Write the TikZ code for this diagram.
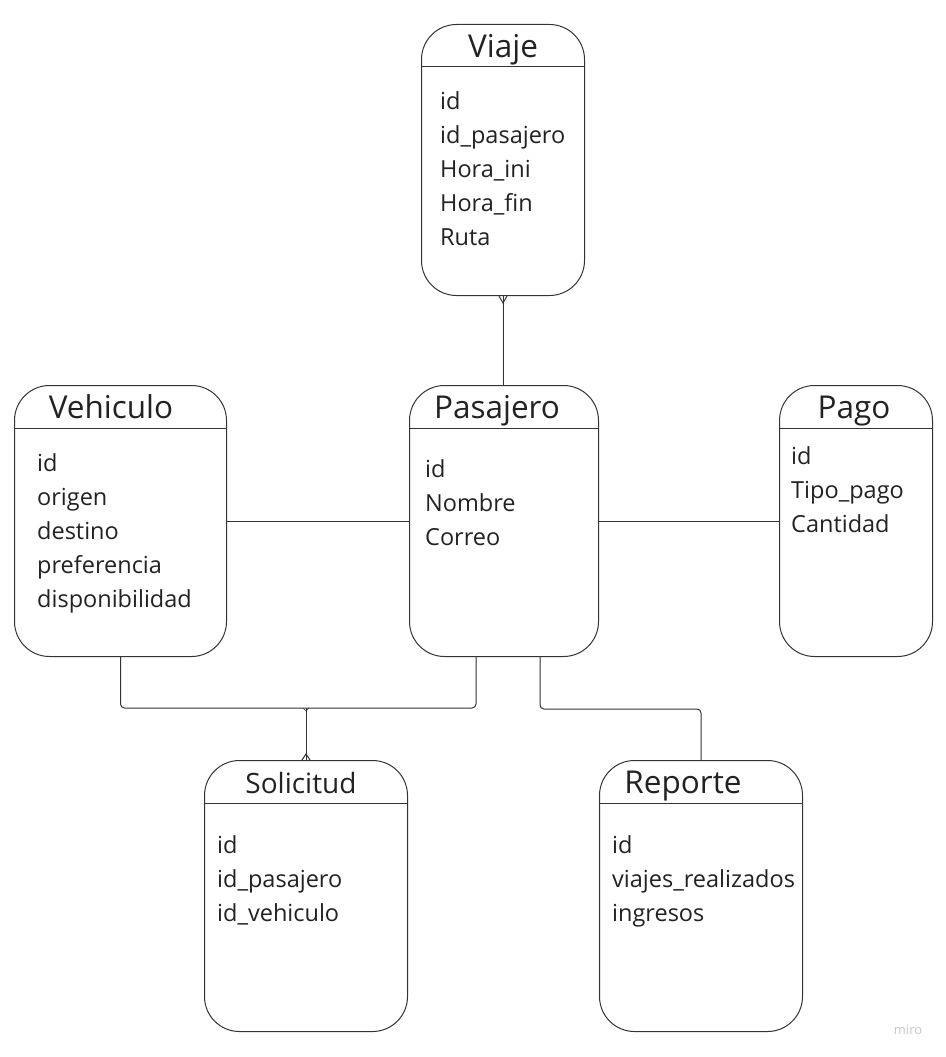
\documentclass[tikz,border=0pt]{standalone}
\usepackage{fontspec}
\setmainfont{Open Sans}
\usepackage{tikz}
\usepackage{xcolor}

\definecolor{edge}{HTML}{333333}
\definecolor{ink}{HTML}{222222}

\tikzset{
  entity/.style={draw=edge, line width=1pt, rounded corners=35pt, minimum height=271pt, inner sep=0pt, anchor=north west},
  title/.style={anchor=base, inner sep=0pt, text=ink, font=\fontsize{31.5}{34}\selectfont},
  attr/.style={anchor=base west, inner sep=0pt, text=ink, font=\fontsize{23.5}{34}\selectfont},
  conn/.style={draw=edge, line width=1pt},
}

\begin{document}
\begin{tikzpicture}[x=1pt,y=-1pt]
\useasboundingbox (0,0) rectangle (945,1057);

% entities
\node[entity, minimum width=163pt] (viaje) at (421,24) {};
\node[entity, minimum width=212pt] (vehiculo) at (14,385) {};
\node[entity, minimum width=189pt] (pasajero) at (409,385) {};
\node[entity, minimum width=153pt] (pago) at (779,385) {};
\node[entity, minimum width=203pt] (solicitud) at (204,760) {};
\node[entity, minimum width=203pt] (reporte) at (599,760) {};

% header lines
\foreach \e in {viaje,vehiculo,pasajero,pago,solicitud,reporte}
  \draw[conn] ([yshift=-43pt]\e.north west) -- ([yshift=-43pt]\e.north east);

\node[title] (viaje-t) at (503,57) {Viaje};
\node[title] (vehiculo-t) at (111,418) {Vehiculo};
\node[title] (pasajero-t) at (497,418) {Pasajero};
\node[title] (pago-t) at (854,418) {Pago};
\node[title, font=\fontsize{28}{34}\selectfont] (solicitud-t) at (301,793) {Solicitud};
\node[title] (reporte-t) at (683,793) {Reporte};

% attributes
\foreach \t [count=\i from 0] in {id, id\_pasajero, Hora\_ini, Hora\_fin, Ruta}
  \node[attr] (viaje-\i) at (440,109+34*\i) {\t};
\foreach \t [count=\i from 0] in {id, origen, destino, preferencia, disponibilidad}
  \node[attr] (vehiculo-\i) at (37,471+34*\i) {\t};
\foreach \t [count=\i from 0] in {id, Nombre, Correo}
  \node[attr] (pasajero-\i) at (425,477+34*\i) {\t};
\foreach \t [count=\i from 0] in {id, Tipo\_pago, Cantidad}
  \node[attr] (pago-\i) at (791,464+34*\i) {\t};
\foreach \t [count=\i from 0] in {id, id\_pasajero, id\_vehiculo}
  \node[attr] (solicitud-\i) at (217,853+34*\i) {\t};
\foreach \t [count=\i from 0] in {id, viajes\_realizados, ingresos}
  \node[attr] (reporte-\i) at (612,853+34*\i) {\t};

% relations
\draw[conn] (viaje.south) -- (viaje.south |- pasajero.north);
\draw[conn] ([xshift=-4pt]viaje.south) -- ([yshift=-7pt]viaje.south) -- ([xshift=4pt]viaje.south);
\draw[conn] (vehiculo.east) -- (pasajero.west);
\draw[conn] (pasajero.east) -- (pago.west);

\coordinate (jct) at (solicitud.north |- 0,708);
\draw[conn, rounded corners=4pt] (vehiculo.south) |- (jct) -| ([xshift=-28pt]pasajero.south);
\draw[conn] (jct) -- (solicitud.north);
\draw[conn] ([xshift=-4pt]solicitud.north) -- ([yshift=6pt]solicitud.north) -- ([xshift=4pt]solicitud.north);
\draw[conn, line width=0.6pt] ([xshift=-3pt]jct) -- ([yshift=-3pt]jct) -- ([xshift=3pt]jct);

\draw[conn, rounded corners=4pt] ([xshift=36pt]pasajero.south) |- ([yshift=-52pt]pasajero.south -| reporte.north) -- (reporte.north);

\node[text=gray!45, font=\fontsize{13}{14}\selectfont] (miro) at (908,1030) {miro};
\end{tikzpicture}
\end{document}
